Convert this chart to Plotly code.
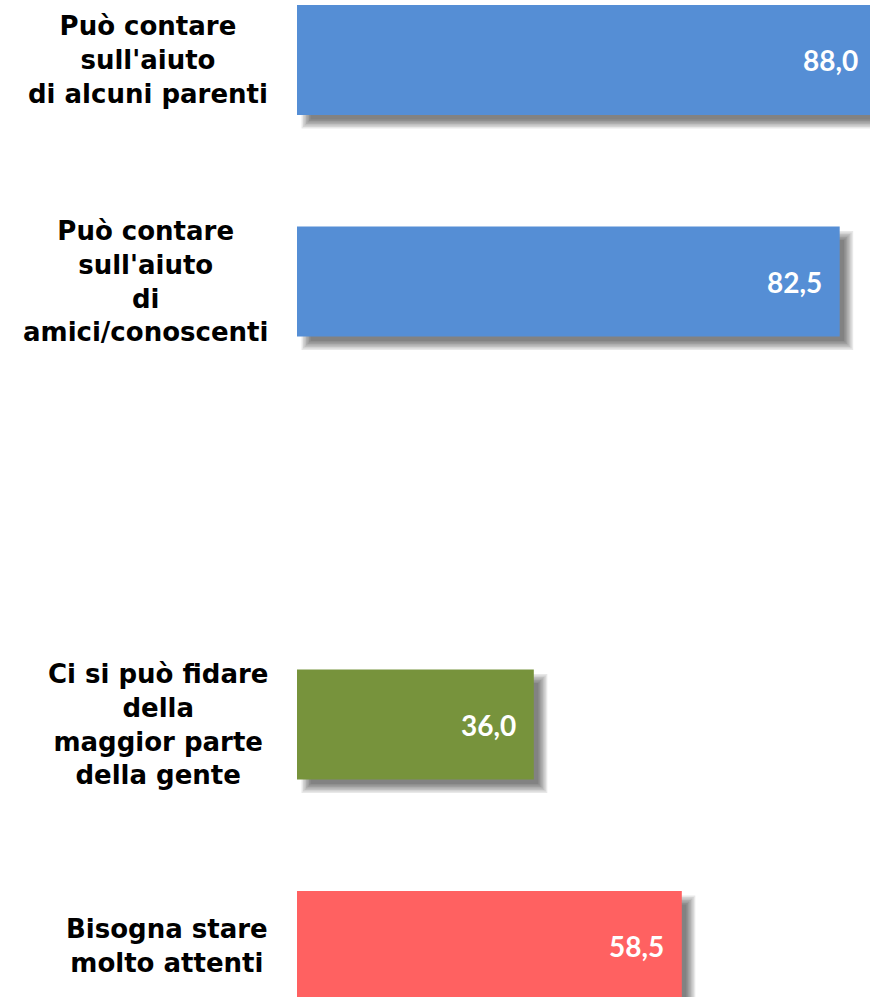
import plotly.graph_objects as go

categories = [
    "Può contare<br>sull'aiuto<br>di alcuni parenti",
    "Può contare<br>sull'aiuto<br>di<br>amici/conoscenti",
    "",
    "Ci si può fidare<br>della<br>maggior parte<br>della gente",
    "Bisogna stare<br>molto attenti",
]
values = [88.0, 82.5, None, 36.0, 58.5]
value_labels = ["88,0", "82,5", "", "36,0", "58,5"]
colors = ["#558ED5", "#558ED5", None, "#77933C", "#FF6161"]

positions = list(range(len(categories)))
idx = [i for i, v in enumerate(values) if v is not None]

# axis geometry
PX_PER_UNIT_X = 6.578
PLOT_W = 870 - 297
X_MAX = PLOT_W / PX_PER_UNIT_X
PX_PER_UNIT_Y = 221.5
BAR_W = 0.497

fig = go.Figure()

# soft drop shadow built from the values (several translucent layers)
dx, dy = 9, 9
for s in [-4.5, -3, -1.5, 0, 1.5, 3, 4.5]:
    fig.add_trace(go.Bar(
        orientation="h",
        y=[positions[i] for i in idx],
        x=[values[i] + (2 * s) / PX_PER_UNIT_X for i in idx],
        base=(dx - s) / PX_PER_UNIT_X,
        width=BAR_W + 2 * s / PX_PER_UNIT_Y,
        offset=-(BAR_W / 2) + (dy - s) / PX_PER_UNIT_Y,
        marker=dict(color="rgba(0,0,0,0.09)", line=dict(width=0)),
        hoverinfo="skip",
        showlegend=False,
    ))

fig.add_trace(go.Bar(
    orientation="h",
    y=[positions[i] for i in idx],
    x=[values[i] for i in idx],
    width=BAR_W,
    marker=dict(color=[colors[i] for i in idx], line=dict(width=0)),
    showlegend=False,
))

annotations = []
for i in idx:
    annotations.append(dict(
        x=values[i] / X_MAX, y=positions[i], xref="paper", yref="y",
        text=value_labels[i], showarrow=False,
        xanchor="right", yanchor="middle", xshift=-16,
        font=dict(family="Lato", size=28, color="white", weight="bold"),
    ))
for i, c in enumerate(categories):
    if not c:
        continue
    annotations.append(dict(
        x=0, y=positions[i], xref="paper", yref="y",
        text=c, showarrow=False, align="center",
        xanchor="right", yanchor="middle", xshift=-27,
        font=dict(family="DejaVu Sans", size=26, color="black", weight="bold"),
    ))

top_px = 60
bottom_px = 997 - 946
fig.update_layout(
    width=870, height=997,
    margin=dict(l=297, r=0, t=0, b=0),
    paper_bgcolor="white", plot_bgcolor="white",
    barmode="overlay",
    xaxis=dict(range=[0, X_MAX], visible=False, fixedrange=True),
    yaxis=dict(range=[4 + bottom_px / PX_PER_UNIT_Y, -top_px / PX_PER_UNIT_Y],
               visible=False, fixedrange=True),
    annotations=annotations,
)

fig.write_html("out.html", config={"displayModeBar": False})
